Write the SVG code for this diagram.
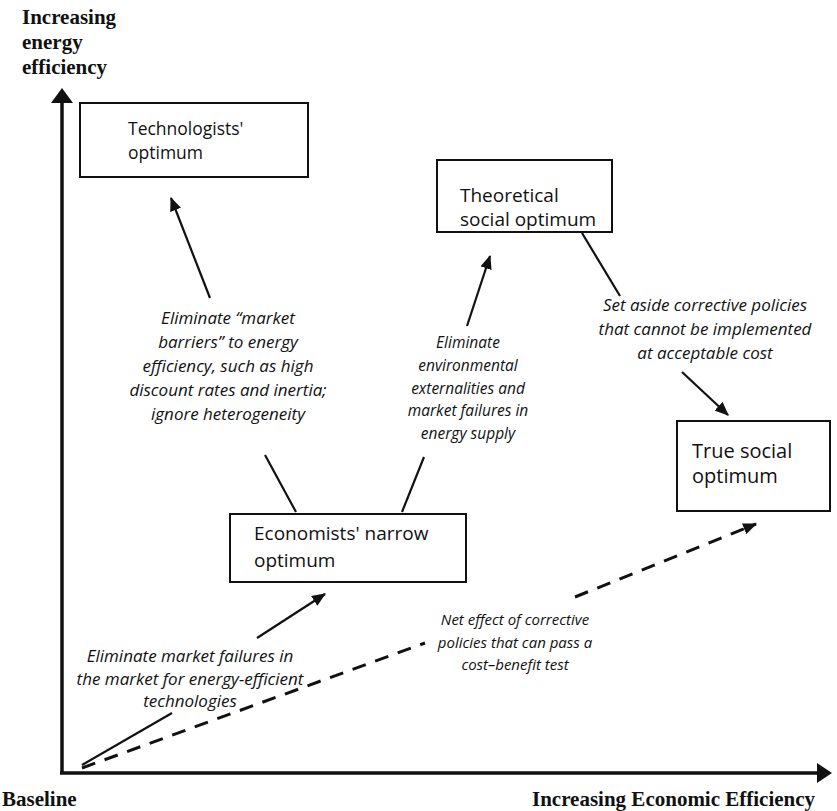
<svg xmlns="http://www.w3.org/2000/svg" width="837" height="811" viewBox="0 0 837 811">
<style>
.axis{font-family:"Liberation Serif",serif;font-weight:bold;font-size:21px;fill:#111}
.box rect{fill:#fff;stroke:#111;stroke-width:2}
.box text{font-family:"Open Sans","Liberation Sans",sans-serif;font-size:19px;fill:#111}
.lbl{font-family:"Open Sans","Liberation Sans",sans-serif;font-style:italic;font-size:17px;fill:#111;text-anchor:middle}
.sm{font-size:15.5px}
.con{stroke:#111;stroke-width:2.2;fill:none}
.dash{stroke:#111;stroke-width:3;fill:none;stroke-dasharray:14 10}
.ax{stroke:#111;stroke-width:3.5;fill:none}
</style>
<defs>
<marker id="ah" viewBox="0 0 12 10" refX="11" refY="5" markerWidth="14" markerHeight="12" markerUnits="userSpaceOnUse" orient="auto">
<path d="M0,0 L12,5 L0,10 z" fill="#111"/>
</marker>
</defs>
<rect width="837" height="811" fill="#fff"/>
<g id="axes">
<line class="ax" x1="62" y1="100" x2="62" y2="773"/>
<polygon points="62,88 51,103 73,103" fill="#111"/>
<line class="ax" x1="60" y1="773" x2="818" y2="773"/>
<polygon points="832,773 817,763 817,783" fill="#111"/>
<text class="axis" x="22" y="24">Increasing</text>
<text class="axis" x="22" y="49">energy</text>
<text class="axis" x="22" y="74">efficiency</text>
<text class="axis" x="2" y="806">Baseline</text>
<text class="axis" x="532" y="806">Increasing Economic Efficiency</text>
</g>
<g id="connectors">
<line class="con" x1="296" y1="512" x2="265" y2="455"/>
<line class="con" x1="210" y1="298" x2="171" y2="198" marker-end="url(#ah)"/>
<line class="con" x1="402" y1="512" x2="424" y2="457"/>
<line class="con" x1="467" y1="326" x2="490" y2="256" marker-end="url(#ah)"/>
<line class="con" x1="582" y1="233" x2="620" y2="296"/>
<line class="con" x1="682" y1="372" x2="728" y2="415" marker-end="url(#ah)"/>
<line class="con" x1="82" y1="765" x2="172" y2="713"/>
<line class="con" x1="257" y1="638" x2="325" y2="594" marker-end="url(#ah)"/>
<line class="dash" x1="82" y1="768" x2="425" y2="643"/>
<line class="dash" x1="575" y1="597" x2="756" y2="524" marker-end="url(#ah)"/>
</g>
<g id="technologists" class="box">
<rect x="80" y="103" width="228" height="74"/>
<text x="128" y="135" style="font-size:17.5px">Technologists'</text>
<text x="128" y="159" style="font-size:17.5px">optimum</text>
</g>
<g id="theoretical" class="box">
<rect x="437" y="160" width="175" height="72"/>
<text x="460" y="202">Theoretical</text>
<text x="460" y="226">social optimum</text>
</g>
<g id="truesocial" class="box">
<rect x="677" y="421" width="153" height="90"/>
<text x="692" y="458" style="font-size:20px">True social</text>
<text x="692" y="483" style="font-size:20px">optimum</text>
</g>
<g id="economists" class="box">
<rect x="230" y="514" width="236" height="68"/>
<text x="254" y="540">Economists' narrow</text>
<text x="254" y="567">optimum</text>
</g>
<g id="labels">
<text class="lbl" x="228" y="324">Eliminate “market</text>
<text class="lbl" x="228" y="348">barriers” to energy</text>
<text class="lbl" x="228" y="372">efficiency, such as high</text>
<text class="lbl" x="228" y="396">discount rates and inertia;</text>
<text class="lbl" x="228" y="420">ignore heterogeneity</text>
<text class="lbl sm" x="468" y="348">Eliminate</text>
<text class="lbl sm" x="468" y="371">environmental</text>
<text class="lbl sm" x="468" y="394">externalities and</text>
<text class="lbl sm" x="468" y="416">market failures in</text>
<text class="lbl sm" x="468" y="439">energy supply</text>
<text class="lbl" x="705" y="311">Set aside corrective policies</text>
<text class="lbl" x="705" y="335">that cannot be implemented</text>
<text class="lbl" x="705" y="359">at acceptable cost</text>
<text class="lbl" x="190" y="662">Eliminate market failures in</text>
<text class="lbl" x="190" y="685">the market for energy-efficient</text>
<text class="lbl" x="190" y="707">technologies</text>
<text class="lbl" x="515" y="625" style="font-size:15px">Net effect of corrective</text>
<text class="lbl" x="515" y="648" style="font-size:15px">policies that can pass a</text>
<text class="lbl" x="515" y="670" style="font-size:15px">cost–benefit test</text>
</g>
</svg>
